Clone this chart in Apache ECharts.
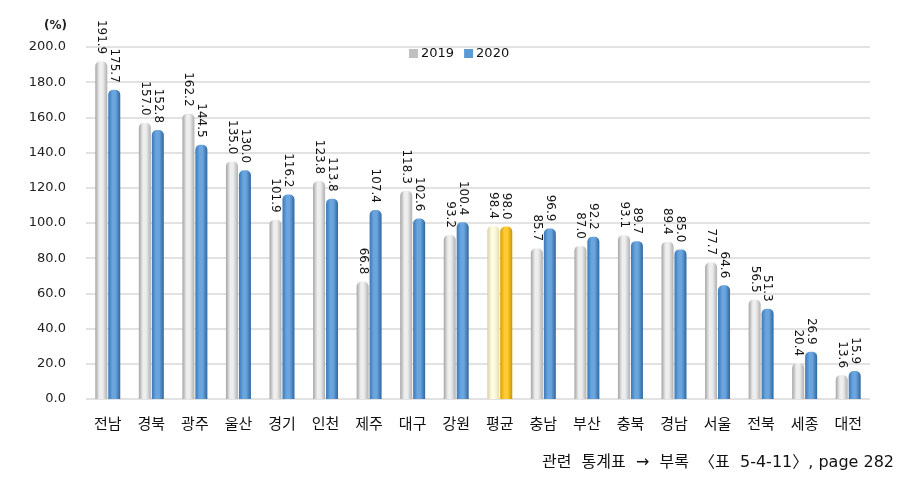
<!DOCTYPE html>
<html>
<head>
<meta charset="utf-8">
<script src="https://cdn.jsdelivr.net/npm/echarts@6/dist/echarts.min.js"></script>
<style>
  html, body { margin: 0; padding: 0; background: #fff; }
  #chart { width: 909px; height: 480px; }
</style>
</head>
<body>
<div id="chart"></div>
<script>
const regions = ['전남', '경북', '광주', '울산', '경기', '인천', '제주', '대구', '강원', '평균', '충남', '부산', '충북', '경남', '서울', '전북', '세종', '대전'];
const values2019 = [191.9, 157.0, 162.2, 135.0, 101.9, 123.8, 66.8, 118.3, 93.2, 98.4, 85.7, 87.0, 93.1, 89.4, 77.7, 56.5, 20.4, 13.6];
const values2020 = [175.7, 152.8, 144.5, 130.0, 116.2, 113.8, 107.4, 102.6, 100.4, 98.0, 96.9, 92.2, 89.7, 85.0, 64.6, 51.3, 26.9, 15.9];
const avgName = '평균';

const numFont = 'DejaVu Sans';
const krFont = '"Noto Sans CJK KR", "Noto Sans", sans-serif';

// horizontal gradient so bars read as cylinders
let cyl = (edge, mid, dark) => new echarts.graphic.LinearGradient(0, 0, 1, 0, [
  { offset: 0, color: edge },
  { offset: 0.35, color: mid },
  { offset: 0.6, color: mid },
  { offset: 1, color: dark }
]);

const gray = cyl('#a4a4a4', '#eeeeee', '#b0b0b0');
const blue = cyl('#3a78b8', '#6aa5dd', '#2f679f');
const paleYellow = cyl('#d8cfa4', '#fffbe0', '#e6ddb0');
const gold = cyl('#d9a000', '#ffcc33', '#c99400');

let makeData = (vals, normal, avg) => vals.map((v, i) => ({
  value: v,
  itemStyle: { color: regions[i] === avgName ? avg : normal }
}));

const labelStyle = {
  show: true,
  position: 'top',
  rotate: -90,
  align: 'right',
  verticalAlign: 'middle',
  distance: 7,
  fontFamily: numFont,
  fontSize: 12,
  color: '#111',
  formatter: p => p.value.toFixed(1)
};

const chart = echarts.init(document.getElementById('chart'));
chart.setOption({
  animation: false,
  grid: { left: 86, right: 39, top: 47, bottom: 81 },
  graphic: [
    {
      type: 'text', left: 44, top: 20,
      style: { text: '(%)', font: 'bold 12px "DejaVu Sans"', fill: '#222' }
    },
    {
      type: 'text', right: 15, top: 455,
      style: {
        text: '관련  통계표  →  부록  〈표  5-4-11〉, page 282',
        font: '16px "DejaVu Sans", "Noto Sans CJK KR", sans-serif',
        fill: '#111'
      }
    }
  ],
  legend: {
    left: 404,
    top: 42,
    itemWidth: 9,
    itemHeight: 9,
    itemGap: 10,
    icon: 'rect',
    textStyle: { fontFamily: numFont, fontSize: 13, color: '#111', padding: [0, 0, 0, -2] },
    data: [
      { name: '2019', itemStyle: { color: '#c0c0c0' } },
      { name: '2020', itemStyle: { color: '#5b9bd5' } }
    ]
  },
  xAxis: {
    type: 'category',
    data: regions,
    axisLine: { show: false },
    axisTick: { show: false },
    axisLabel: { fontFamily: krFont, fontSize: 15, color: '#111', margin: 17 }
  },
  yAxis: {
    type: 'value',
    min: 0,
    max: 200,
    interval: 20,
    axisLine: { show: false },
    axisTick: { show: false },
    splitLine: { lineStyle: { color: '#d9d9d9', width: 1.5 } },
    axisLabel: {
      fontFamily: numFont, fontSize: 13, color: '#222', margin: 20,
      formatter: v => v.toFixed(1)
    }
  },
  series: [
    {
      name: '2019',
      type: 'bar',
      barWidth: 12,
      barGap: '8%',
      data: makeData(values2019, gray, paleYellow),
      itemStyle: { borderRadius: [5, 5, 0, 0] },
      label: labelStyle
    },
    {
      name: '2020',
      type: 'bar',
      barWidth: 12,
      data: makeData(values2020, blue, gold),
      itemStyle: { borderRadius: [5, 5, 0, 0] },
      label: labelStyle
    }
  ]
});
</script>
</body>
</html>
